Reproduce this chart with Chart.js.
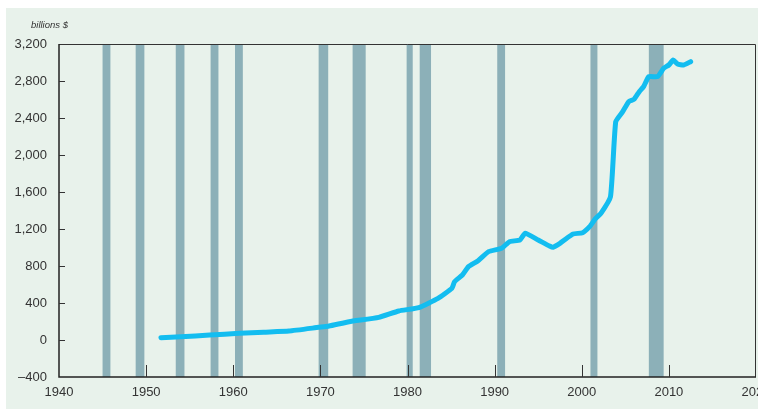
<!DOCTYPE html>
<html>
<head>
<meta charset="utf-8">
<script src="https://cdn.jsdelivr.net/npm/chart.js@4/dist/chart.umd.min.js"></script>
<style>
  html, body { margin: 0; padding: 0; background: #fff; }
  #wrap { width: 758px; height: 409px; }
</style>
</head>
<body>
<div id="wrap"><canvas id="chart"></canvas></div>
<script>
// years (decimal) and values in billions $
const years = [
	1951.7, 1954, 1957.3, 1960.7, 1963.5, 1966.4, 1969.8, 1971, 1973.3, 1976.7,
	1979, 1981.3, 1983.5, 1985.1, 1985.4, 1986.3, 1987, 1988.1, 1989.3, 1990.8,
	1991.7, 1992.9, 1993.5, 1995, 1996.3, 1996.7, 1997.5, 1998, 1999, 2000.1,
	2000.9, 2001.6, 2002.2, 2003.3, 2003.9, 2004.7, 2005.4, 2006, 2006.6, 2007.1,
	2007.7, 2008.7, 2009.4, 2010, 2010.5, 2011, 2011.7, 2012.5
];
const values = [
	25, 35, 54, 72, 85, 97, 137, 151, 198, 245,
	314, 350, 450, 559, 630, 703, 793, 857, 955, 991,
	1063, 1081, 1153, 1081, 1016, 1002, 1045, 1081, 1146, 1160,
	1225, 1315, 1369, 1550, 2360, 2468, 2577, 2602, 2685, 2739,
	2847, 2847, 2937, 2973, 3027, 2984, 2973, 3009
];

// recession periods (start, end)
const recessionStart = [1945.0, 1948.8, 1953.4, 1957.4, 1960.2, 1969.8, 1973.7, 1979.9, 1981.4, 1990.3, 2001.0, 2007.7];
const recessionEnd   = [1945.9, 1949.8, 1954.4, 1958.3, 1961.1, 1970.9, 1975.2, 1980.6, 1982.7, 1991.2, 2001.8, 2009.4];

const xTicks = [1940, 1950, 1960, 1970, 1980, 1990, 2000, 2010, 2020];
const yTicks = [-400, 0, 400, 800, 1200, 1600, 2000, 2400, 2800, 3200];

const textColor = "#333333";
const lineColor = "#13bdf0";
const barColor = "#8cb0b8";

const points = years.map((y, i) => ({ x: y, y: values[i] }));

const backgroundPlugin = {
	id: "panelBackground",
	beforeDraw(chart) {
		const ctx = chart.ctx;
		ctx.save();
		ctx.fillStyle = "#ffffff";
		ctx.fillRect(0, 0, chart.width, chart.height);
		ctx.fillStyle = "#e8f2eb";
		ctx.fillRect(6, 8, chart.width - 6, chart.height - 8);
		ctx.restore();
	},
};

const recessionPlugin = {
	id: "recessions",
	beforeDatasetsDraw(chart) {
		const { ctx, chartArea, scales } = chart;
		ctx.save();
		ctx.fillStyle = barColor;
		recessionStart.forEach((s, i) => {
			const x0 = scales.x.getPixelForValue(s);
			const x1 = scales.x.getPixelForValue(recessionEnd[i]);
			ctx.fillRect(x0, chartArea.top, x1 - x0, chartArea.bottom - chartArea.top);
		});
		ctx.restore();
	},
};

const framePlugin = {
	id: "frame",
	afterDatasetsDraw(chart) {
		const { ctx, chartArea, scales } = chart;
		const { left, right, top, bottom } = chartArea;
		ctx.save();

		// top and right border
		ctx.strokeStyle = "#333333";
		ctx.lineWidth = 1;
		ctx.beginPath();
		ctx.moveTo(left, top + 0.5);
		ctx.lineTo(right - 0.5, top + 0.5);
		ctx.lineTo(right - 0.5, bottom);
		ctx.stroke();

		// left and bottom axis
		ctx.strokeStyle = "#222222";
		ctx.lineWidth = 1.5;
		ctx.beginPath();
		ctx.moveTo(left, top);
		ctx.lineTo(left, bottom);
		ctx.lineTo(right, bottom);
		ctx.stroke();

		// inside tick marks
		ctx.lineWidth = 1;
		ctx.strokeStyle = "#333333";
		ctx.beginPath();
		yTicks.forEach((v) => {
			if (v === -400 || v === 3200) return;
			const y = Math.round(scales.y.getPixelForValue(v)) + 0.5;
			ctx.moveTo(left, y);
			ctx.lineTo(left + 6, y);
		});
		xTicks.forEach((v) => {
			if (v === 1940 || v === 2020) return;
			const x = Math.round(scales.x.getPixelForValue(v)) + 0.5;
			ctx.moveTo(x, bottom);
			ctx.lineTo(x, bottom - 12);
		});
		ctx.stroke();

		// unit label
		ctx.fillStyle = textColor;
		ctx.font = "italic 9.5px 'Liberation Sans', Arial, sans-serif";
		ctx.textBaseline = "middle";
		ctx.textAlign = "left";
		ctx.fillText("billions $", 31, 25);
		ctx.restore();
	},
};

new Chart(document.getElementById("chart").getContext("2d"), {
	type: "line",
	data: {
		datasets: [
			{
				label: "billions $",
				data: points,
				borderColor: lineColor,
				backgroundColor: lineColor,
				borderWidth: 5,
				borderCapStyle: "round",
				borderJoinStyle: "round",
				pointRadius: 0,
				tension: 0.15,
				fill: false,
			},
		],
	},
	options: {
		responsive: true,
		maintainAspectRatio: false,
		animation: false,
		layout: { padding: { left: 0, top: 44, right: 2, bottom: 0 } },
		plugins: {
			legend: { display: false },
			tooltip: { enabled: false },
			title: { display: false },
		},
		scales: {
			x: {
				type: "linear",
				min: 1940,
				max: 2020,
				grid: { display: false },
				border: { display: false },
				afterBuildTicks: (scale) => {
					scale.ticks = xTicks.map((v) => ({ value: v }));
				},
				afterFit: (scale) => {
					scale.height = 32;
					scale.paddingLeft = 0;
					scale.paddingRight = 0;
				},
				ticks: {
					padding: 0,
					color: textColor,
					font: { family: "'Liberation Sans', Arial, sans-serif", size: 13 },
					callback: (v) => String(v),
				},
			},
			y: {
				min: -400,
				max: 3200,
				grid: { display: false },
				border: { display: false },
				afterBuildTicks: (scale) => {
					scale.ticks = yTicks.map((v) => ({ value: v }));
				},
				afterFit: (scale) => {
					scale.width = 59;
					scale.paddingTop = 0;
					scale.paddingBottom = 0;
				},
				ticks: {
					padding: 4,
					color: textColor,
					font: { family: "'Liberation Sans', Arial, sans-serif", size: 13 },
					callback: (v) => (v < 0 ? "\u2013" : "") + Math.abs(v).toLocaleString("en-US"),
				},
			},
		},
	},
	plugins: [backgroundPlugin, recessionPlugin, framePlugin],
});
</script>
</body>
</html>
